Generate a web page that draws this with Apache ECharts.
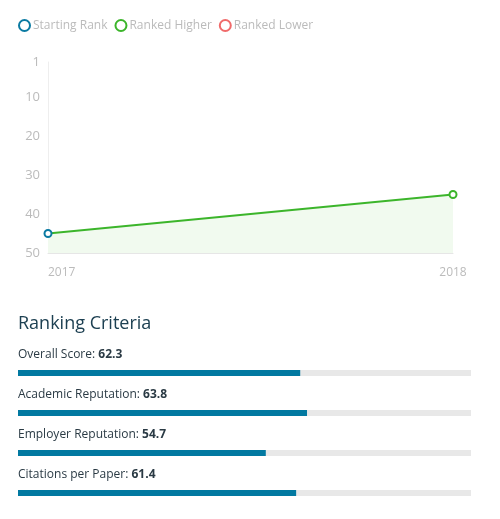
<!DOCTYPE html>
<html><head><meta charset="utf-8">
<script src="https://cdn.jsdelivr.net/npm/echarts@6/dist/echarts.min.js"></script>
<style>html,body{margin:0;padding:0;background:#fff}#c{width:500px;height:519px}</style>
</head><body><div id="c"></div>
<script>
var years = ['2017', '2018'];
var ranks = [45, 35];
var rankTicks = [1, 10, 20, 30, 40, 50];
var criteria = ['Overall Score', 'Academic Reputation', 'Employer Reputation', 'Citations per Paper'];
var scores = [62.3, 63.8, 54.7, 61.4];

var FONT = '"Open Sans", sans-serif';
var BLUE = '#0a7aa2', GREEN = '#3cb52b', RED = '#f06a6a';
var chart = echarts.init(document.getElementById('c'));
chart.setOption({
  animation: false,
  textStyle: { fontFamily: FONT },
  title: {
    text: 'Ranking Criteria', left: 13, top: 310,
    textStyle: { fontFamily: FONT, fontSize: 18, fontWeight: 'normal', color: '#1d4052' }
  },
  legend: {
    left: 13, top: 14, itemGap: 7, itemWidth: 11, itemHeight: 11,
    icon: 'emptyCircle',
    textStyle: { color: '#bbbbbb', fontSize: 12, fontFamily: FONT, padding: [0, 0, 0, -2] },
    data: [
      { name: 'Starting Rank', itemStyle: { color: BLUE, borderColor: BLUE, borderWidth: 2 } },
      { name: 'Ranked Higher', itemStyle: { color: GREEN, borderColor: GREEN, borderWidth: 2 } },
      { name: 'Ranked Lower', itemStyle: { color: RED, borderColor: RED, borderWidth: 2 } }
    ]
  },
  grid: [
    { left: 48, right: 47, top: 62, height: 191 },
    { left: 18, right: 29, top: 353, height: 160 }
  ],
  xAxis: [
    {
      gridIndex: 0, type: 'category', data: years, boundaryGap: false,
      axisLine: { lineStyle: { color: '#e6e6e6' } }, axisTick: { show: false },
      axisLabel: { color: '#bbbbbb', fontSize: 12, margin: 14, alignMinLabel: 'left', alignMaxLabel: 'center' },
      splitLine: { show: false }
    },
    { gridIndex: 1, type: 'value', min: 0, max: 100, show: false }
  ],
  yAxis: [
    {
      gridIndex: 0, type: 'value', inverse: true, min: 1, max: 50,
      axisLine: { show: true, lineStyle: { color: '#eeeeee' } }, axisTick: { show: false },
      axisLabel: { color: '#bbbbbb', fontSize: 13, margin: 8, customValues: rankTicks },
      splitLine: { show: false }
    },
    { gridIndex: 1, type: 'category', data: criteria, inverse: true, show: false }
  ],
  series: [
    { name: 'Starting Rank', type: 'line', data: [], itemStyle: { color: BLUE } },
    {
      name: 'Ranked Higher', type: 'line', xAxisIndex: 0, yAxisIndex: 0,
      data: ranks.map(function (v, i) {
        return { value: v, itemStyle: { color: '#fff', borderColor: i === 0 ? BLUE : GREEN, borderWidth: 2 } };
      }),
      symbol: 'circle', symbolSize: 7, showAllSymbol: true,
      lineStyle: { color: GREEN, width: 2 },
      itemStyle: { color: GREEN },
      areaStyle: { origin: 'end', color: '#f1faef', opacity: 1 }
    },
    { name: 'Ranked Lower', type: 'line', data: [], itemStyle: { color: RED } },
    {
      type: 'bar', xAxisIndex: 1, yAxisIndex: 1, data: scores, barWidth: 6,
      itemStyle: { color: '#0279a1' },
      showBackground: true, backgroundStyle: { color: '#e8e8e8' },
      label: {
        show: true, position: [0, -21], align: 'left',
        formatter: function (p) { return '{a|' + criteria[p.dataIndex] + ': }{b|' + p.value + '}'; },
        rich: {
          a: { fontFamily: FONT, fontSize: 12, color: '#2a3a44' },
          b: { fontFamily: FONT, fontSize: 12, color: '#2a3a44', fontWeight: 'bold' }
        }
      }
    }
  ]
});
</script></body></html>
